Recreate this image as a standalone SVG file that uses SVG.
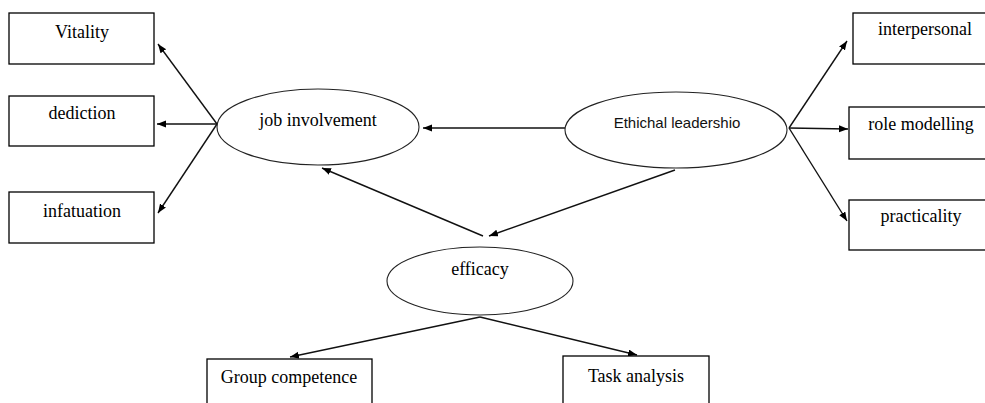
<svg xmlns="http://www.w3.org/2000/svg" width="985" height="403" viewBox="0 0 985 403">
<style>
.box{fill:#fff;stroke:#000;stroke-width:1.3}
.ell{fill:#fff;stroke:#222;stroke-width:1.1}
.t{font-family:"Liberation Serif","Times New Roman",serif;font-size:18px;fill:#000;text-anchor:middle}
.s{font-family:"Liberation Sans",Arial,sans-serif;font-size:15px;fill:#111;text-anchor:middle}
.c{stroke:#111;stroke-width:1.4;fill:none;marker-end:url(#ah)}
</style>
<defs>
<marker id="ah" markerWidth="10" markerHeight="8" refX="9" refY="3.5" orient="auto" markerUnits="userSpaceOnUse">
<path d="M0,0 L9,3.5 L0,7 z" fill="#000"/>
</marker>
</defs>
<rect width="985" height="403" fill="#fff"/>
<g id="connectors">
<line class="c" x1="217" y1="124" x2="158" y2="44"/>
<line class="c" x1="217" y1="124" x2="157" y2="124"/>
<line class="c" x1="217" y1="124" x2="158" y2="213"/>
<line class="c" x1="565" y1="128" x2="423" y2="128"/>
<line class="c" x1="789" y1="128" x2="847" y2="41"/>
<line class="c" x1="789" y1="128" x2="848" y2="129"/>
<line class="c" x1="789" y1="128" x2="847" y2="221"/>
<line class="c" x1="675" y1="170" x2="489" y2="236"/>
<line class="c" x1="483" y1="236" x2="322" y2="168"/>
<line class="c" x1="480" y1="317" x2="290" y2="357"/>
<line class="c" x1="480" y1="317" x2="637" y2="355"/>
</g>
<g id="vitality"><rect class="box" x="9" y="13" width="145" height="51"/><text class="t" x="82" y="38">Vitality</text></g>
<g id="dediction"><rect class="box" x="9" y="96" width="145" height="50"/><text class="t" x="82" y="119">dediction</text></g>
<g id="infatuation"><rect class="box" x="9" y="192" width="145" height="51"/><text class="t" x="82" y="217">infatuation</text></g>
<g id="job-involvement"><ellipse class="ell" cx="318" cy="127" rx="101" ry="38"/><text class="t" x="318" y="126">job involvement</text></g>
<g id="ethichal-leadership"><ellipse class="ell" cx="676" cy="130" rx="111" ry="38"/><text class="s" x="677" y="128">Ethichal leadershio</text></g>
<g id="interpersonal"><rect class="box" x="853" y="13" width="140" height="51"/><text class="t" x="925" y="35">interpersonal</text></g>
<g id="role-modelling"><rect class="box" x="849" y="107" width="144" height="52"/><text class="t" x="921" y="130">role modelling</text></g>
<g id="practicality"><rect class="box" x="849" y="200" width="144" height="50"/><text class="t" x="921" y="222">practicality</text></g>
<g id="efficacy"><ellipse class="ell" cx="480" cy="281" rx="93" ry="34"/><text class="t" x="480" y="275">efficacy</text></g>
<g id="group-competence"><rect class="box" x="207" y="359" width="165" height="50"/><text class="t" x="289" y="383">Group competence</text></g>
<g id="task-analysis"><rect class="box" x="563" y="356" width="146" height="52"/><text class="t" x="636" y="382">Task analysis</text></g>
</svg>
